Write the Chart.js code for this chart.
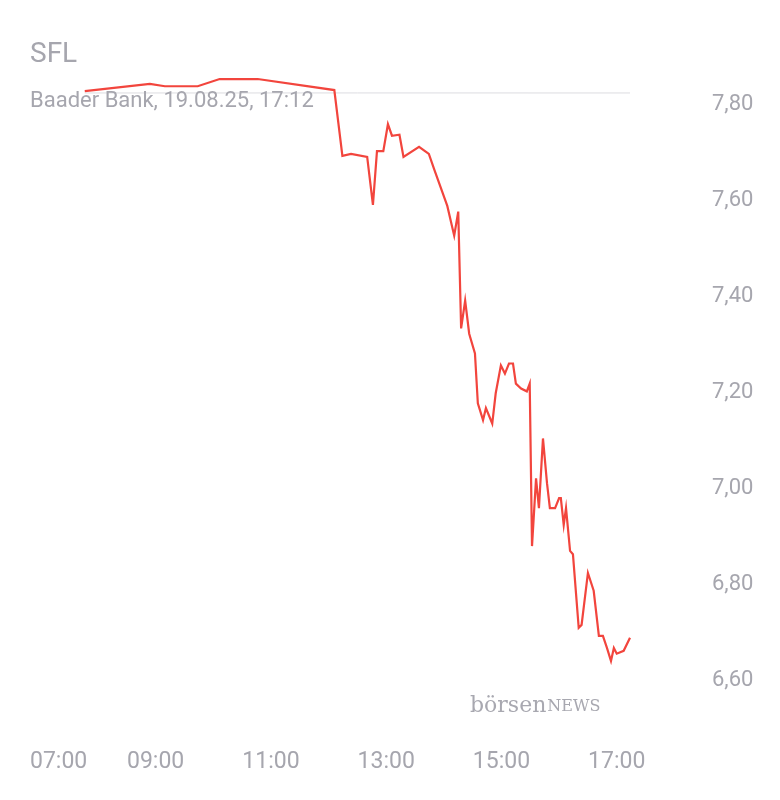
<!DOCTYPE html><html><head><script src="https://cdn.jsdelivr.net/npm/chart.js@4"></script>
<style>body{margin:0;background:#fff}#w{width:780px;height:800px}</style></head><body><div id="w"><canvas id="c"></canvas></div>
<script>
const hours=[7.77,8.90,9.16,9.73,10.11,10.77,12.10,12.24,12.39,12.67,12.77,12.84,12.95,13.03,13.10,13.23,13.30,13.57,13.74,13.83,14.06,14.18,14.25,14.30,14.37,14.44,14.54,14.59,14.68,14.73,14.84,14.90,14.99,15.06,15.13,15.20,15.25,15.34,15.44,15.49,15.53,15.60,15.65,15.72,15.79,15.84,15.93,16.00,16.03,16.08,16.12,16.19,16.24,16.34,16.39,16.50,16.60,16.69,16.76,16.83,16.90,16.95,17.00,17.12,17.23];
const prices=[7.827,7.842,7.837,7.837,7.852,7.852,7.829,7.692,7.696,7.690,7.590,7.702,7.702,7.758,7.734,7.736,7.690,7.711,7.696,7.665,7.588,7.526,7.576,7.333,7.391,7.322,7.281,7.177,7.142,7.167,7.135,7.198,7.256,7.239,7.260,7.260,7.218,7.208,7.202,7.218,6.880,7.021,6.959,7.104,7.011,6.959,6.959,6.980,6.980,6.924,6.959,6.870,6.863,6.710,6.716,6.824,6.787,6.693,6.693,6.668,6.641,6.668,6.656,6.662,6.689];
const prevClose=7.823;
const xTicks=[7,9,11,13,15,17];
const yTicks=[6.6,6.8,7.0,7.2,7.4,7.6,7.8];
const title="SFL", subtitle="Baader Bank, 19.08.25, 17:12";
const font='"Helvetica Neue",Roboto,Arial,sans-serif';
const grey='#a6a6ae';
const deco={id:'deco',afterDraw(ch){const c=ch.ctx,xs=ch.scales.x;c.save();c.fillStyle=grey;
c.font='28px '+font;c.textBaseline='middle';c.fillText(title,30,55);
c.font='22px '+font;c.fillText(subtitle,30,101);
c.font='23px '+font;c.textAlign='center';
xTicks.forEach(h=>{let p=xs.getPixelForValue(h);const w=c.measureText('07:00').width;p=Math.max(p,30+w/2);c.fillText(String(h).padStart(2,'0')+':00',p,762);});
c.textAlign='left';c.fillStyle='#a8a8b0';c.font='22px "DejaVu Serif",serif';c.fillText('börsen',470,706);
const bw=c.measureText('börsen').width;c.font='16px "DejaVu Serif",serif';c.fillText('NEWS',470+bw+1,707);c.restore();}};
new Chart(document.getElementById('c'),{type:'line',data:{datasets:[
{data:hours.map((h,i)=>({x:h,y:prices[i]})),borderColor:'#f2453d',borderWidth:2.2,pointRadius:0,tension:0,clip:false},
{data:[{x:7.77,y:prevClose},{x:17.23,y:prevClose}],borderColor:'#dcdce0',borderWidth:1,pointRadius:0,clip:false}]},
options:{responsive:true,maintainAspectRatio:false,animation:false,layout:{padding:{left:30,top:2,right:0,bottom:0}},
plugins:{legend:{display:false},tooltip:{enabled:false}},
scales:{x:{type:'linear',min:6.82,max:17.23,grid:{display:false},border:{display:false},ticks:{display:false},afterFit(s){s.height=80;}},
y:{position:'right',min:6.533,max:7.835,grid:{display:false},border:{display:false},
afterBuildTicks(s){s.ticks=yTicks.map(v=>({value:v}));},
ticks:{color:grey,font:{size:22,family:font},padding:74,callback:v=>v.toFixed(2).replace('.',',')},afterFit(s){s.width=150;}}}},
plugins:[deco]});
</script></body></html>
